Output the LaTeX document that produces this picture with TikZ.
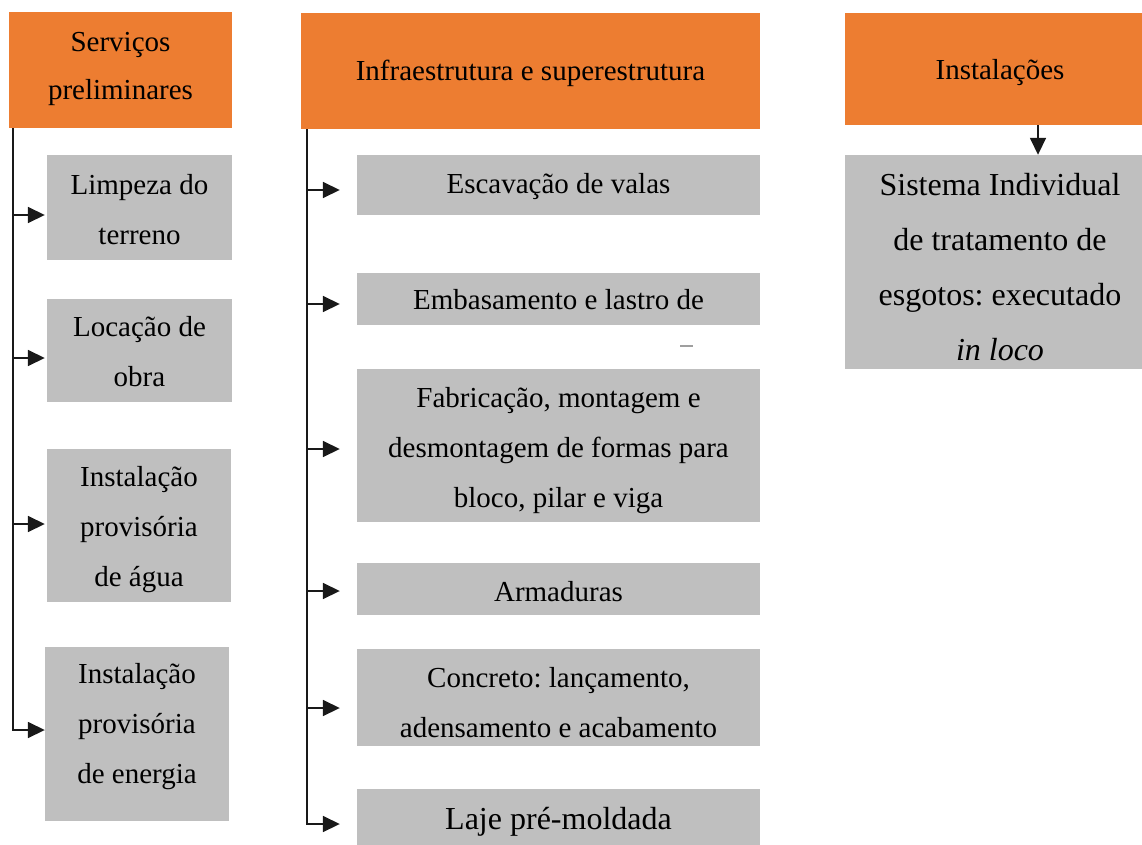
\documentclass[tikz,border=0pt]{standalone}
\usepackage{fontspec}
\setmainfont{Liberation Serif}
\usetikzlibrary{arrows.meta,positioning}

\definecolor{laranja}{HTML}{ED7D31}
\definecolor{cinza}{HTML}{BFBFBF}
\frenchspacing

\begin{document}
\begin{tikzpicture}[
    x=1pt, y=-1pt,
    % estilos das caixas
    etapa/.style={fill=laranja, inner sep=0pt},
    tarefa/.style={fill=cinza, inner sep=0pt},
    rotulo/.style={inner sep=0pt, align=center, font=\fontsize{29}{50}\selectfont},
    cabecalho/.style={rotulo, font=\fontsize{29}{48}\selectfont},
    linha/.style={line width=1.7pt, black!90},
    seta/.style={linha, -{Triangle[length=17pt,width=16pt]}},
]
    \useasboundingbox (0,0) rectangle (1142,845);

    % --- 1. Cabeçalhos (laranja) ---
    \node[etapa, minimum width=223, minimum height=116,
        label={[cabecalho, yshift=1]center:{Serviços\\preliminares}}] (servicos) at (120.5,70) {};
    \node[etapa, minimum width=459, minimum height=116,
        label={[cabecalho, yshift=-2]center:{Infraestrutura e superestrutura}}] (infra) at (530.5,71) {};
    \node[etapa, minimum width=310, minimum height=112,
        label={[cabecalho, yshift=-4]center:{Instalações}}] (instal) at (1000,69) {};

    % --- 2. Coluna da esquerda ---
    \node[tarefa, minimum width=185, minimum height=105,
        label={[rotulo, yshift=-2]center:{Limpeza do\\terreno}}] (limpeza) at (139.5,207.5) {};
    \node[tarefa, minimum width=185, minimum height=103,
        label={[rotulo, yshift=-1]center:{Locação de\\obra}}] (locacao) at (139.5,350.5) {};
    \node[tarefa, minimum width=184, minimum height=153,
        label={[rotulo, yshift=-4]center:{Instalação\\provisória\\de água}}] (agua) at (139,525.5) {};
    \node[tarefa, minimum width=184, minimum height=174,
        label={[rotulo, yshift=7]center:{Instalação\\provisória\\de energia}}] (energia) at (137,734) {};

    % --- 3. Coluna do meio ---
    \node[tarefa, minimum width=403, minimum height=60,
        label={[rotulo, yshift=-2]center:{Escavação de valas}}] (escavacao) at (558.5,185) {};
    \node[tarefa, minimum width=403, minimum height=52,
        label={[rotulo, yshift=-1]center:{Embasamento e lastro de}}] (embasamento) at (558.5,299) {};
    \node[tarefa, minimum width=403, minimum height=153,
        label={[rotulo, yshift=-5]center:{Fabricação, montagem e\\desmontagem de formas para\\bloco, pilar e viga}}] (fabricacao) at (558.5,445.5) {};
    \node[tarefa, minimum width=403, minimum height=52,
        label={[rotulo, yshift=-3]center:{Armaduras}}] (armaduras) at (558.5,589) {};
    \node[tarefa, minimum width=403, minimum height=97,
        label={[rotulo, yshift=-5]center:{Concreto: lançamento,\\adensamento e acabamento}}] (concreto) at (558.5,697.5) {};
    \node[tarefa, minimum width=403, minimum height=56,
        label={[rotulo, font=\fontsize{32}{50}\selectfont, yshift=-5]center:{Laje pré-moldada}}] (laje) at (558.5,817) {};

    % traço solto abaixo de "Embasamento"
    \draw[gray!75, line width=2pt] (680,346) -- (693,346);

    % --- 4. Coluna da direita (texto cortado pela caixa) ---
    \node[tarefa, minimum width=310, minimum height=214] (sistema) at (1000,262) {};
    \begin{scope}
        \clip (sistema.north west) rectangle (sistema.south east);
        \node[rotulo, font=\fontsize{32}{55}\selectfont] (sistematxt) at ([yshift=-5]sistema.center)
            {Sistema Individual\\de tratamento de\\esgotos: executado\\\textit{in loco}};
    \end{scope}

    % --- 5. Conectores ---
    % tronco da esquerda
    \coordinate (troncoA) at ([xshift=4]servicos.south west);
    \draw[seta] (troncoA) |- ([yshift=4]energia.west);
    \draw[seta] ([yshift=-7.5]limpeza.west -| troncoA) -- ([yshift=-7.5,xshift=-2]limpeza.west);
    \draw[seta] ([yshift=-7.5]locacao.west -| troncoA) -- ([yshift=-7.5,xshift=-2]locacao.west);
    \draw[seta] ([yshift=1.5]agua.west -| troncoA) -- ([yshift=1.5,xshift=-2]agua.west);

    % tronco do meio
    \coordinate (troncoB) at ([xshift=6]infra.south west);
    \draw[seta] (troncoB) |- ([yshift=-7,xshift=-17]laje.west);
    \draw[seta] ([yshift=-5]escavacao.west -| troncoB) -- ([yshift=-5,xshift=-17]escavacao.west);
    \draw[seta] ([yshift=-5]embasamento.west -| troncoB) -- ([yshift=-5,xshift=-17]embasamento.west);
    \draw[seta] ([yshift=-3.5]fabricacao.west -| troncoB) -- ([yshift=-3.5,xshift=-17]fabricacao.west);
    \draw[seta] ([yshift=-2]armaduras.west -| troncoB) -- ([yshift=-2,xshift=-17]armaduras.west);
    \draw[seta] ([yshift=-10.5]concreto.west -| troncoB) -- ([yshift=-10.5,xshift=-17]concreto.west);

    % instalações -> sistema
    \draw[seta] ([xshift=38]instal.south) -- ([xshift=38]sistema.north);

\end{tikzpicture}
\end{document}
